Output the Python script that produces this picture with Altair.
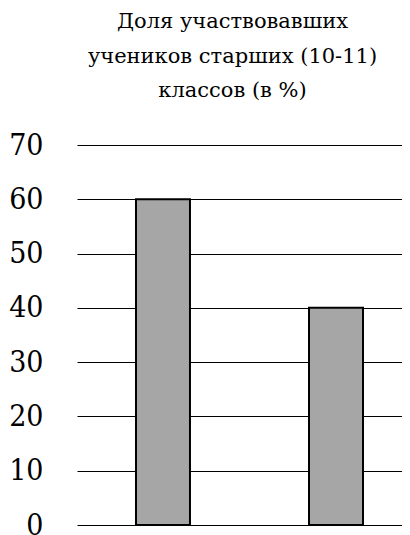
import altair as alt
import pandas as pd

categories = ["Участвовали", "Не участвовали"]
values = [60, 40]
y_ticks = [0, 10, 20, 30, 40, 50, 60, 70]
title_lines = ["Доля участвовавших", "учеников старших (10-11)", "классов (в %)"]

df = pd.DataFrame({"cat": categories, "val": values})

FONT_T = "DejaVu Serif"
FONT_L = "DejaVu Serif Condensed"

chart = (
    alt.Chart(df)
    .mark_bar(fill="#a6a6a6", stroke="black", strokeWidth=2)
    .encode(
        x=alt.X(
            "cat:N",
            sort=categories,
            axis=None,
            scale=alt.Scale(paddingInner=0.688, paddingOuter=0.2832, align=0.602),
        ),
        y=alt.Y(
            "val:Q",
            scale=alt.Scale(domain=[0, 70], nice=False),
            axis=alt.Axis(
                values=y_ticks,
                title=None,
                domain=False,
                ticks=False,
                grid=True,
                gridColor="black",
                gridWidth=1,
                gridOpacity=1,
                labelFont=FONT_L,
                labelFontSize=30,
                labelColor="black",
                labelPadding=34,
            ),
        ),
    )
    .properties(
        width=325,
        height=380,
        title=alt.TitleParams(
            text=title_lines,
            font=FONT_T,
            fontSize=21,
            fontWeight="normal",
            color="black",
            anchor="middle",
            lineHeight=34.5,
            offset=29,
            dx=-7,
        ),
        autosize=alt.AutoSizeParams(type="none"),
        padding={"left": 69, "top": 137, "right": 0, "bottom": 10},
    )
    .configure_view(stroke=None)
)

chart.save("out.html", embed_options={"renderer": "svg", "actions": False})
